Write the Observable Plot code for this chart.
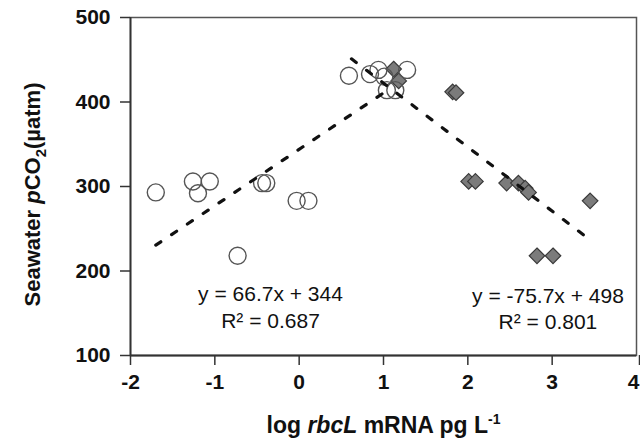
<!DOCTYPE html>
<html>
<head>
<meta charset="utf-8">
<script src="https://cdn.jsdelivr.net/npm/d3@7"></script>
<script src="https://cdn.jsdelivr.net/npm/@observablehq/plot@0.6"></script>
<style>
  html, body { margin: 0; padding: 0; background: #fff; }
  svg { display: block; }
</style>
</head>
<body>
<div id="chart"></div>
<script>
// Open circles (series 1)
const circX = [-1.70, -1.26, -1.06, -1.20, -0.73, -0.44, -0.39, -0.03, 0.11, 0.59, 0.84, 0.94, 1.01, 1.28, 1.04, 1.14];
const circY = [293, 306, 306, 292, 218, 304, 304, 283, 283, 431, 433, 438, 430, 438, 414, 414];
// Grey diamonds (series 2)
const diaX = [1.12, 1.18, 1.82, 1.86, 2.01, 2.09, 2.46, 2.60, 2.68, 2.72, 3.45, 2.82, 3.01];
const diaY = [439, 425, 412, 411, 306, 306, 304, 304, 298, 293, 283, 218, 218];
// Trend lines: slope, intercept, x range
const fitSlope = [66.7, -75.7];
const fitIntercept = [344, 498];
const fitRange = [[-1.70, 1.10], [0.62, 3.38]];
const eqText = [["y = 66.7x + 344", "R² = 0.687"], ["y = -75.7x + 498", "R² = 0.801"]];
const eqPos = [[-0.34, 173, 141], [2.95, 170, 139]];
const xTicks = [-2, -1, 0, 1, 2, 3];
const xTickLast = [4];
const yTicks = [100, 200, 300, 400, 500];

const circles = circX.map((x, i) => ({x, y: circY[i]}));
const diamonds = diaX.map((x, i) => ({x, y: diaY[i]}));
const fits = [];
fitSlope.forEach((m, k) => {
  fitRange[k].forEach(x => fits.push({k, x, y: m * x + fitIntercept[k]}));
});
const eqs = [];
eqText.forEach((t, k) => {
  eqs.push({x: eqPos[k][0], y: eqPos[k][1], t: t[0]});
  eqs.push({x: eqPos[k][0], y: eqPos[k][2], t: t[1]});
});

const font = "'Liberation Sans', Arial, sans-serif";
const axisStyle = {tickFormat: d => String(d), tickSize: 10, tickPadding: 9, fontSize: 21, fontWeight: "bold", label: null, stroke: "#333", strokeWidth: 1.5, fill: "#111"};

const plot = Plot.plot({
  width: 640,
  height: 446,
  marginLeft: 130,
  marginRight: 4,
  marginTop: 17,
  marginBottom: 91,
  style: {fontFamily: font, background: "#fff"},
  x: {domain: [-2, 4]},
  y: {domain: [100, 500]},
  marks: [
    Plot.frame({stroke: "#555", strokeWidth: 1.5}),
    Plot.axisX({...axisStyle, ticks: xTicks}),
    Plot.axisX({...axisStyle, ticks: xTickLast, textAnchor: "end", dx: 3}),
    Plot.axisY({...axisStyle, ticks: yTicks, tickPadding: 10}),
    Plot.ruleX([-2], {stroke: "#333", strokeWidth: 1.8}),
    Plot.ruleY([100], {stroke: "#333", strokeWidth: 1.8}),
    Plot.dot(diamonds, {x: "x", y: "y", symbol: "diamond2", r: 7, fill: "#7b7b7b", stroke: "#3a3a3a", strokeWidth: 1.2}),
    Plot.dot(circles, {x: "x", y: "y", symbol: "circle", r: 8.5, fill: "none", stroke: "#555", strokeWidth: 1.4}),
    Plot.line(fits, {x: "x", y: "y", z: "k", stroke: "#111", strokeWidth: 3.2, strokeDasharray: "6,13"}),
    Plot.text(eqs, {x: "x", y: "y", text: "t", fontSize: 21, fill: "#111", fontFamily: font}),
    Plot.text(["ytitle"], {frameAnchor: "left", dx: -98, dy: 8, rotate: -90, textAnchor: "middle", text: d => "Seawater pCO2(µatm)", fontSize: 22, fontWeight: "bold", fill: "#111", className: "ytitle"}),
    Plot.text(["xtitle"], {frameAnchor: "bottom", dy: 77, textAnchor: "middle", text: d => "log rbcL mRNA pg L-1", fontSize: 23, fontWeight: "bold", fill: "#111", className: "xtitle"})
  ]
});

// Rich formatting for axis titles (italic, subscript, superscript)
const svg = d3.select(plot);
svg.select(".ytitle text").each(function() {
  const t = d3.select(this).text("");
  t.append("tspan").text("Seawater ");
  t.append("tspan").attr("font-style", "italic").text("p");
  t.append("tspan").text("CO");
  t.append("tspan").attr("font-size", 15).attr("dy", 6).text("2");
  t.append("tspan").attr("dy", -6).text("(µatm)");
});
svg.select(".xtitle text").each(function() {
  const t = d3.select(this).text("");
  t.append("tspan").text("log ");
  t.append("tspan").attr("font-style", "italic").text("rbcL");
  t.append("tspan").text(" mRNA pg L");
  t.append("tspan").attr("font-size", 14).attr("dy", -9).text("-1");
});

document.getElementById("chart").appendChild(plot);
</script>
</body>
</html>
